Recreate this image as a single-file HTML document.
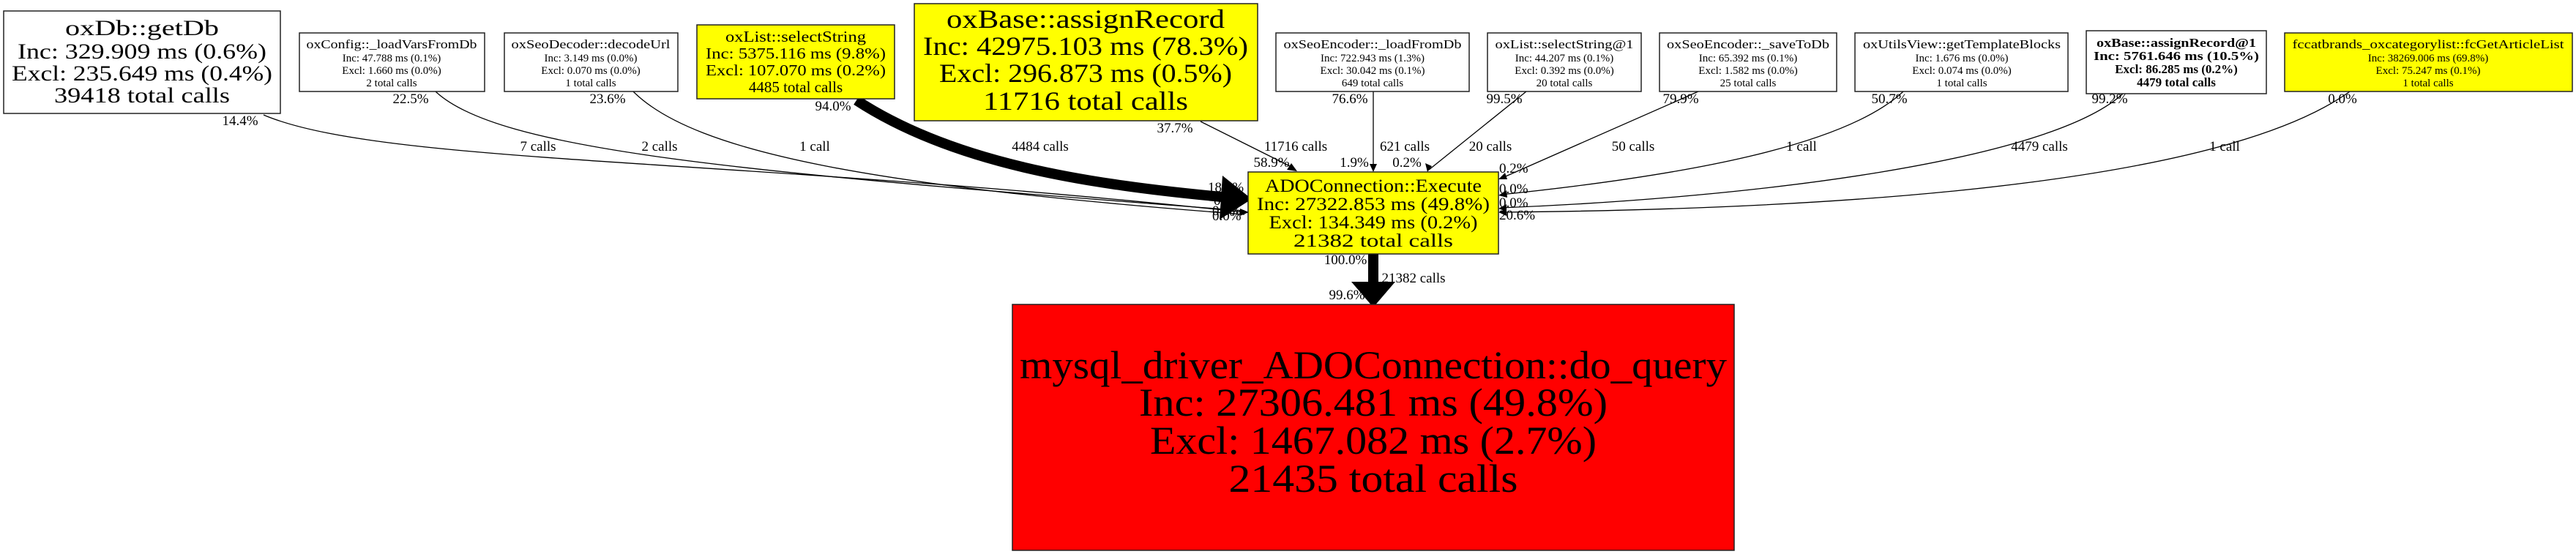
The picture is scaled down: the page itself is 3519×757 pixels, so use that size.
<!DOCTYPE html>
<html><head><meta charset="utf-8"><style>
html,body{margin:0;padding:0;background:#fff;}
svg{display:block;}
text{font-family:"Liberation Serif",serif;fill:#000;}
.s{font-size:15px;}
</style></head><body>
<svg width="3519" height="757" viewBox="0 0 3519 757" xmlns="http://www.w3.org/2000/svg">
<g fill="none" stroke="#000" stroke-width="1.3">
<path d="M360 157 C520 225 1000 215 1700 290"/>
<path d="M595 125 C680 205 1000 235 1700 288"/>
<path d="M865 125 C950 210 1200 255 1700 293"/>
<path d="M1640 166 L1768 230"/>
<path d="M1876 125 L1876 232"/>
<path d="M2085 125 L1952 232"/>
<path d="M2320 125 L2050 244"/>
<path d="M2600 125 C2520 200 2300 240 2050 266"/>
<path d="M2900 128 C2800 220 2400 270 2050 284"/>
<path d="M3210 125 C3050 240 2600 285 2050 290"/>
</g>
<path d="M1170 137 C1300 222 1480 252 1680 270" fill="none" stroke="#000" stroke-width="14"/>
<polygon points="1710,272 1670,240 1666,300" fill="#000"/>
<g fill="#000">
<polygon points="1772,234 1758,232 1764,223"/>
<polygon points="1876,235 1871,224 1881,224"/>
<polygon points="1950,235 1947,223 1956,227"/>
<polygon points="2047,245 2056,236 2059,245"/>
<polygon points="2047,267 2058,260 2059,270"/>
<polygon points="2047,285 2058,279 2058,289"/>
<polygon points="2047,290 2058,285 2058,295"/>
<polygon points="1706,290 1694,285 1694,295"/>
</g>
<line x1="1876" y1="347" x2="1876" y2="388" stroke="#000" stroke-width="14"/>
<polygon points="1846,385 1906,385 1876,420" fill="#000"/>

<g stroke="#222" stroke-width="1.5">
<rect x="5" y="15" width="378" height="140" fill="#fff"/>
<rect x="409" y="45" width="253" height="80" fill="#fff"/>
<rect x="689" y="45" width="237" height="80" fill="#fff"/>
<rect x="952" y="34" width="270" height="101" fill="#ff0"/>
<rect x="1249" y="5" width="469" height="160" fill="#ff0"/>
<rect x="1743" y="45" width="264" height="80" fill="#fff"/>
<rect x="2032" y="45" width="210" height="80" fill="#fff"/>
<rect x="2267" y="45" width="242" height="80" fill="#fff"/>
<rect x="2534" y="45" width="291" height="80" fill="#fff"/>
<rect x="2850" y="42" width="246" height="86" fill="#fff"/>
<rect x="3121" y="45" width="393" height="80" fill="#ff0"/>
<rect x="1705" y="235" width="342" height="112" fill="#ff0"/>
<rect x="1383" y="416" width="986" height="336" fill="#f00"/>
</g>

<g text-anchor="middle">
<g font-size="30">
<text x="194" y="48" textLength="210" lengthAdjust="spacingAndGlyphs">oxDb::getDb</text>
<text x="194" y="80" textLength="340" lengthAdjust="spacingAndGlyphs">Inc: 329.909 ms (0.6%)</text>
<text x="194" y="110" textLength="356" lengthAdjust="spacingAndGlyphs">Excl: 235.649 ms (0.4%)</text>
<text x="194" y="140" textLength="240" lengthAdjust="spacingAndGlyphs">39418 total calls</text>
</g>
<g font-size="17">
<text x="535" y="66" textLength="233" lengthAdjust="spacingAndGlyphs">oxConfig::_loadVarsFromDb</text>
<text class="s" x="535" y="84">Inc: 47.788 ms (0.1%)</text>
<text class="s" x="535" y="101">Excl: 1.660 ms (0.0%)</text>
<text class="s" x="535" y="118">2 total calls</text>
<text x="807" y="66" textLength="217" lengthAdjust="spacingAndGlyphs">oxSeoDecoder::decodeUrl</text>
<text class="s" x="807" y="84">Inc: 3.149 ms (0.0%)</text>
<text class="s" x="807" y="101">Excl: 0.070 ms (0.0%)</text>
<text class="s" x="807" y="118">1 total calls</text>
<text x="1875" y="66" textLength="243" lengthAdjust="spacingAndGlyphs">oxSeoEncoder::_loadFromDb</text>
<text class="s" x="1875" y="84">Inc: 722.943 ms (1.3%)</text>
<text class="s" x="1875" y="101">Excl: 30.042 ms (0.1%)</text>
<text class="s" x="1875" y="118">649 total calls</text>
<text x="2137" y="66" textLength="189" lengthAdjust="spacingAndGlyphs">oxList::selectString@1</text>
<text class="s" x="2137" y="84">Inc: 44.207 ms (0.1%)</text>
<text class="s" x="2137" y="101">Excl: 0.392 ms (0.0%)</text>
<text class="s" x="2137" y="118">20 total calls</text>
<text x="2388" y="66" textLength="222" lengthAdjust="spacingAndGlyphs">oxSeoEncoder::_saveToDb</text>
<text class="s" x="2388" y="84">Inc: 65.392 ms (0.1%)</text>
<text class="s" x="2388" y="101">Excl: 1.582 ms (0.0%)</text>
<text class="s" x="2388" y="118">25 total calls</text>
<text x="2680" y="66" textLength="270" lengthAdjust="spacingAndGlyphs">oxUtilsView::getTemplateBlocks</text>
<text class="s" x="2680" y="84">Inc: 1.676 ms (0.0%)</text>
<text class="s" x="2680" y="101">Excl: 0.074 ms (0.0%)</text>
<text class="s" x="2680" y="118">1 total calls</text>
<text x="3317" y="66" textLength="371" lengthAdjust="spacingAndGlyphs">fccatbrands_oxcategorylist::fcGetArticleList</text>
<text class="s" x="3317" y="84">Inc: 38269.006 ms (69.8%)</text>
<text class="s" x="3317" y="101">Excl: 75.247 ms (0.1%)</text>
<text class="s" x="3317" y="118">1 total calls</text>
</g>
<g font-size="17" font-weight="bold">
<text x="2973" y="64" textLength="218" lengthAdjust="spacingAndGlyphs">oxBase::assignRecord@1</text>
<text x="2973" y="82" textLength="226" lengthAdjust="spacingAndGlyphs">Inc: 5761.646 ms (10.5%)</text>
<text x="2973" y="100">Excl: 86.285 ms (0.2%)</text>
<text x="2973" y="118">4479 total calls</text>
</g>
<g font-size="21">
<text x="1087" y="57" textLength="192" lengthAdjust="spacingAndGlyphs">oxList::selectString</text>
<text x="1087" y="80" textLength="246" lengthAdjust="spacingAndGlyphs">Inc: 5375.116 ms (9.8%)</text>
<text x="1087" y="103" textLength="246" lengthAdjust="spacingAndGlyphs">Excl: 107.070 ms (0.2%)</text>
<text x="1087" y="126">4485 total calls</text>
</g>
<g font-size="36">
<text x="1483" y="38" textLength="380" lengthAdjust="spacingAndGlyphs">oxBase::assignRecord</text>
<text x="1483" y="75" textLength="444" lengthAdjust="spacingAndGlyphs">Inc: 42975.103 ms (78.3%)</text>
<text x="1483" y="112" textLength="400" lengthAdjust="spacingAndGlyphs">Excl: 296.873 ms (0.5%)</text>
<text x="1483" y="150" textLength="280" lengthAdjust="spacingAndGlyphs">11716 total calls</text>
</g>
<g font-size="25">
<text x="1876" y="262" textLength="296" lengthAdjust="spacingAndGlyphs">ADOConnection::Execute</text>
<text x="1876" y="287" textLength="318" lengthAdjust="spacingAndGlyphs">Inc: 27322.853 ms (49.8%)</text>
<text x="1876" y="312" textLength="285" lengthAdjust="spacingAndGlyphs">Excl: 134.349 ms (0.2%)</text>
<text x="1876" y="337" textLength="218" lengthAdjust="spacingAndGlyphs">21382 total calls</text>
</g>
<g font-size="54">
<text x="1876" y="517" textLength="966" lengthAdjust="spacingAndGlyphs">mysql_driver_ADOConnection::do_query</text>
<text x="1876" y="568" textLength="640" lengthAdjust="spacingAndGlyphs">Inc: 27306.481 ms (49.8%)</text>
<text x="1876" y="620" textLength="610" lengthAdjust="spacingAndGlyphs">Excl: 1467.082 ms (2.7%)</text>
<text x="1876" y="672" textLength="395" lengthAdjust="spacingAndGlyphs">21435 total calls</text>
</g>

<g font-size="19">
<text x="328" y="171">14.4%</text>
<text x="561" y="141">22.5%</text>
<text x="830" y="141">23.6%</text>
<text x="1138" y="151">94.0%</text>
<text x="1605" y="181">37.7%</text>
<text x="1844" y="141">76.6%</text>
<text x="2055" y="141">99.5%</text>
<text x="2296" y="141">79.9%</text>
<text x="2581" y="141">50.7%</text>
<text x="2882" y="141">99.2%</text>
<text x="3200" y="141">0.0%</text>
<text x="735" y="206">7 calls</text>
<text x="901" y="206">2 calls</text>
<text x="1113" y="206">1 call</text>
<text x="1421" y="206">4484 calls</text>
<text x="1770" y="206">11716 calls</text>
<text x="1919" y="206">621 calls</text>
<text x="2036" y="206">20 calls</text>
<text x="2231" y="206">50 calls</text>
<text x="2461" y="206">1 call</text>
<text x="2786" y="206">4479 calls</text>
<text x="3039" y="206">1 call</text>
<text x="1737" y="228">58.9%</text>
<text x="1850" y="228">1.9%</text>
<text x="1922" y="228">0.2%</text>
<text x="1838" y="361">100.0%</text>
<text x="1931" y="386">21382 calls</text>
<text x="1840" y="409">99.6%</text>
</g>
<g font-size="19" text-anchor="start">
<text x="1650" y="262">18.9%</text>
<text x="1658" y="280">0.5%</text>
<text x="1656" y="294">0.0%</text>
<text x="1656" y="301">0.0%</text>
<text x="2048" y="236">0.2%</text>
<text x="2048" y="264">0.0%</text>
<text x="2048" y="283">0.0%</text>
<text x="2048" y="300">20.6%</text>
</g>
</g>
</svg>
</body></html>
